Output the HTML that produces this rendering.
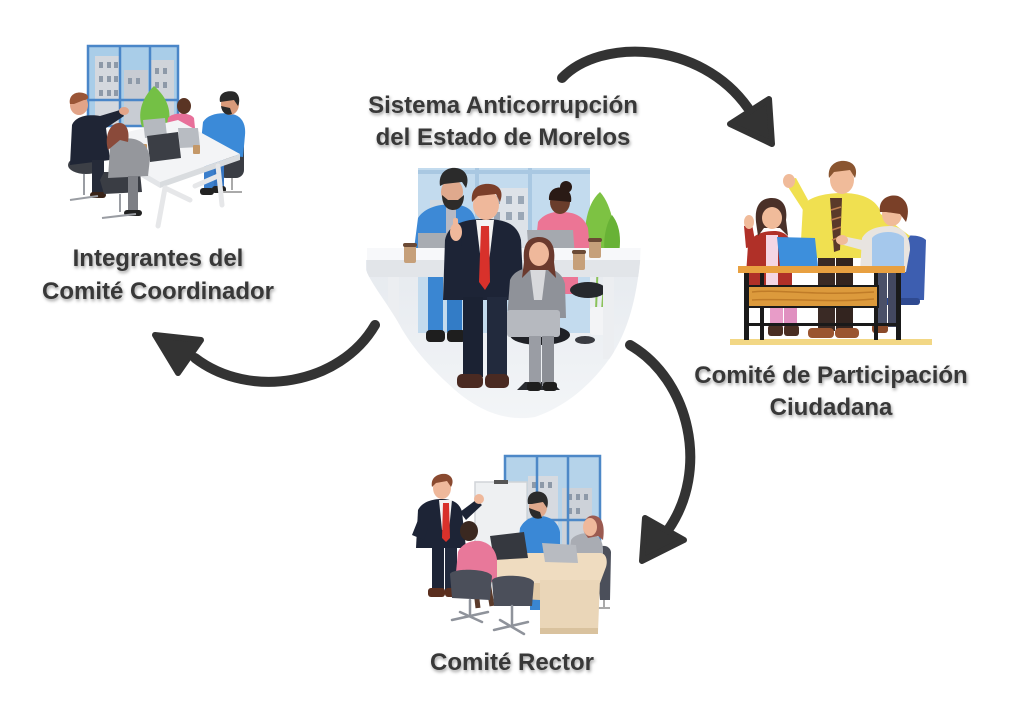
<!DOCTYPE html>
<html><head><meta charset="utf-8"><style>
html,body{margin:0;padding:0;background:#fff;width:1024px;height:706px;overflow:hidden}
svg{display:block}
text{font-family:"Liberation Sans",Arial,sans-serif;font-weight:bold;font-size:24px;fill:#383838;}
</style></head><body>
<svg width="1024" height="706" viewBox="0 0 1024 706" xmlns="http://www.w3.org/2000/svg">
<defs>
<filter id="ts" x="-10%" y="-40%" width="120%" height="190%"><feDropShadow dx="1" dy="2" stdDeviation="1.6" flood-color="#000" flood-opacity="0.38"/></filter>
<clipPath id="blob"><path d="M366,160 L645,160 L640,262 C636,300 628,330 612,355 C595,380 570,405 535,417 C505,422 478,410 455,390 C430,368 410,345 398,322 C385,300 372,285 366,270 Z"/></clipPath>
<linearGradient id="floor" x1="0" y1="0" x2="0" y2="1"><stop offset="0" stop-color="#e6eaef"/><stop offset="1" stop-color="#f4f6f8"/></linearGradient>
</defs>
<rect width="1024" height="706" fill="#fff"/>

<!-- ============ CENTER ILLUSTRATION ============ -->
<g clip-path="url(#blob)">
  <rect x="360" y="260" width="290" height="170" fill="url(#floor)"/>
  <rect x="418" y="168" width="172" height="165" fill="#c3dbee"/>
  <rect x="488" y="188" width="44" height="70" fill="#dde2e8"/>
  <g fill="#9aa7b6"><rect x="494" y="196" width="6" height="8"/><rect x="506" y="196" width="6" height="8"/><rect x="518" y="196" width="6" height="8"/><rect x="494" y="212" width="6" height="8"/><rect x="506" y="212" width="6" height="8"/><rect x="518" y="212" width="6" height="8"/></g>
  <rect x="430" y="200" width="30" height="60" fill="#d3d9e0"/>
  <g stroke="#a9c8e2" stroke-width="4"><line x1="477" y1="168" x2="477" y2="333"/><line x1="530" y1="168" x2="530" y2="333"/><line x1="418" y1="172" x2="590" y2="172"/></g>
  <!-- plant -->
  <path d="M600,192 C585,205 582,235 588,255 L612,255 C618,235 612,205 600,192 Z" fill="#7dc243"/>
  <path d="M612,215 C605,225 602,245 606,258 L618,258 C622,240 620,225 612,215 Z" fill="#68b236"/>
  <g stroke="#8bc25a" stroke-width="2"><line x1="598" y1="258" x2="596" y2="310"/><line x1="606" y1="258" x2="602" y2="310"/></g>
  <rect x="590" y="307" width="20" height="28" rx="3" fill="#f3f4f6"/>
  <!-- blue man back -->
  <path d="M413,257 L418,218 C424,208 440,203 452,205 C466,204 474,210 476,222 L476,257 Z" fill="#3d89d6"/>
  <rect x="446" y="206" width="10" height="40" fill="#b7b9c4"/>
  <ellipse cx="452" cy="192" rx="11" ry="13" fill="#dfa98d"/>
  <path d="M440,186 C438,172 448,167 456,168 C466,169 470,178 466,188 L462,182 L444,184 Z" fill="#2b2b2b"/>
  <path d="M442,195 C442,206 448,210 453,210 C460,210 464,204 464,195 L458,200 L448,200 Z" fill="#2e2b29"/>
  <rect x="428" y="274" width="15" height="58" fill="#3a86d2"/><rect x="447" y="274" width="15" height="58" fill="#337cc6"/>
  <rect x="426" y="330" width="19" height="12" rx="4" fill="#1e1e1e"/><rect x="447" y="330" width="19" height="12" rx="4" fill="#1e1e1e"/>
  <!-- pink woman back -->
  <path d="M535,250 L538,222 C544,213 556,211 562,212 C574,212 584,216 588,228 L590,250 Z" fill="#ec7595"/>
  <ellipse cx="560" cy="202" rx="10" ry="12" fill="#6a3d2b"/>
  <circle cx="566" cy="187" r="6" fill="#2a1a15"/>
  <path d="M549,200 C548,190 556,186 563,188 C570,190 572,196 571,202 Z" fill="#2a1a15"/>
  <rect x="560" y="276" width="18" height="18" fill="#ec7595"/>
  <ellipse cx="588" cy="290" rx="18" ry="8" fill="#26282d"/>
  <!-- laptops -->
  <path d="M418,233 L450,233 L452,258 L418,258 Z" fill="#a8acb2"/>
  <path d="M527,230 L573,230 L575,257 L529,257 Z" fill="#a5a9af"/>
  <!-- desk -->
  <rect x="367" y="248" width="274" height="13" fill="#f7f8fa"/>
  <rect x="367" y="260" width="274" height="17" fill="#e2e5e9"/>
  <rect x="388" y="277" width="11" height="58" fill="#eceef1"/>
  <rect x="603" y="277" width="11" height="82" fill="#eceef1"/>
  <ellipse cx="585" cy="340" rx="10" ry="4" fill="#3a3c42"/>
  <!-- cups -->
  <rect x="404" y="245" width="12" height="18" rx="2" fill="#c6a07a"/><rect x="403" y="243" width="14" height="4" rx="2" fill="#6b4a35"/>
  <rect x="573" y="252" width="12" height="18" rx="2" fill="#c6a07a"/><rect x="572" y="250" width="14" height="4" rx="2" fill="#6b4a35"/>
  <rect x="589" y="240" width="12" height="18" rx="2" fill="#c6a07a"/><rect x="588" y="238" width="14" height="4" rx="2" fill="#6b4a35"/>
  <!-- center man -->
  <path d="M443,300 L445,240 C448,225 462,219 485,219 C508,219 518,226 521,240 L524,300 Z" fill="#1d2436"/>
  <path d="M476,220 L494,220 L489,262 L481,262 Z" fill="#f3f3f3"/>
  <path d="M481,226 L489,226 L490,282 L485,290 L479,282 Z" fill="#d8312b"/>
  <path d="M445,245 C448,235 455,228 460,232 L462,246 Z" fill="#1d2436"/>
  <ellipse cx="456" cy="232" rx="6" ry="9" fill="#efb89b"/>
  <rect x="453" y="218" width="5" height="12" rx="2" fill="#efb89b"/>
  <ellipse cx="486" cy="205" rx="13" ry="15" fill="#efb89b"/>
  <path d="M472,202 C470,186 482,183 490,184 C500,185 504,192 500,202 L496,194 L478,196 Z" fill="#7b3f2a"/>
  <rect x="463" y="297" width="20" height="80" fill="#1b2233"/><rect x="487" y="297" width="20" height="80" fill="#222a3d"/>
  <rect x="457" y="374" width="26" height="14" rx="5" fill="#4a2a22"/><rect x="485" y="374" width="24" height="14" rx="5" fill="#4a2a22"/>
  <!-- gray woman -->
  <ellipse cx="540" cy="335" rx="30" ry="10" fill="#1f2126"/>
  <rect x="536" y="345" width="5" height="35" fill="#2a2c31"/>
  <path d="M517,390 L560,390 L552,382 L525,382 Z" fill="#2a2c31"/>
  <path d="M507,318 L510,280 C514,270 526,267 538,267 C552,267 562,272 565,284 L566,318 Z" fill="#8f9299"/>
  <path d="M530,268 L546,268 L542,300 L534,300 Z" fill="#d8d9dc"/>
  <path d="M524,262 C522,242 530,237 539,237 C550,237 556,245 554,262 L556,278 L548,270 L530,270 L522,278 Z" fill="#6b3a2e"/>
  <ellipse cx="539" cy="254" rx="10" ry="12" fill="#efb89b"/>
  <rect x="507" y="310" width="53" height="27" rx="3" fill="#b6b9bf"/>
  <rect x="529" y="336" width="12" height="50" fill="#9a9da4"/><rect x="542" y="336" width="12" height="50" fill="#8c8f96"/>
  <rect x="527" y="382" width="14" height="9" rx="3" fill="#1e1e1e"/><rect x="543" y="382" width="14" height="9" rx="3" fill="#1e1e1e"/>
</g>

<!-- ============ TOP-LEFT ILLUSTRATION ============ -->
<g>
  <rect x="88" y="46" width="90" height="80" fill="#a9cde8"/>
  <rect x="95" y="56" width="26" height="70" fill="#d4d8de"/>
  <rect x="124" y="70" width="24" height="56" fill="#c8ccd3"/>
  <rect x="151" y="60" width="23" height="66" fill="#d0d4da"/>
  <g fill="#8d99a8">
    <rect x="99" y="62" width="4" height="6"/><rect x="107" y="62" width="4" height="6"/><rect x="114" y="62" width="4" height="6"/>
    <rect x="99" y="76" width="4" height="6"/><rect x="107" y="76" width="4" height="6"/><rect x="114" y="76" width="4" height="6"/>
    <rect x="99" y="90" width="4" height="6"/><rect x="107" y="90" width="4" height="6"/><rect x="114" y="90" width="4" height="6"/>
    <rect x="128" y="78" width="4" height="6"/><rect x="136" y="78" width="4" height="6"/><rect x="155" y="68" width="4" height="6"/><rect x="163" y="68" width="4" height="6"/>
    <rect x="155" y="82" width="4" height="6"/><rect x="163" y="82" width="4" height="6"/>
  </g>
  <g stroke="#4a86c8" stroke-width="2.5" fill="none"><rect x="88" y="46" width="90" height="80"/><line x1="120" y1="46" x2="120" y2="126"/><line x1="150" y1="46" x2="150" y2="126"/><line x1="88" y1="100" x2="178" y2="100"/></g>
  <path d="M154,86 C140,100 138,115 142,127 L168,127 C172,112 168,98 154,86 Z" fill="#74c045"/>
  <!-- pink woman -->
  <path d="M165,138 L168,118 C172,112 190,112 194,118 L196,138 Z" fill="#e8709a"/>
  <ellipse cx="184" cy="106" rx="7" ry="8" fill="#5a3424"/>
  <!-- blue man -->
  <rect x="218" y="140" width="26" height="38" rx="8" fill="#3a3d44"/>
  <path d="M200,152 L203,122 C208,114 220,112 232,114 C242,116 246,124 245,135 L243,157 Z" fill="#3b8ad8"/>
  <ellipse cx="230" cy="104" rx="9" ry="11" fill="#d99a7a"/>
  <path d="M220,102 C218,92 228,90 235,92 C240,95 240,102 238,106 L234,100 Z" fill="#2a2a2a"/>
  <path d="M221,106 C222,114 228,116 232,114 L230,108 Z" fill="#2a2a2a"/>
  <rect x="204" y="150" width="10" height="42" fill="#3b7fcc"/><rect x="214" y="150" width="10" height="40" fill="#3574c0"/>
  <rect x="200" y="188" width="14" height="7" rx="3" fill="#222"/><rect x="212" y="186" width="14" height="7" rx="3" fill="#222"/>
  <g stroke="#aaa" stroke-width="2"><line x1="232" y1="178" x2="232" y2="190"/><line x1="222" y1="192" x2="242" y2="192"/></g>
  <!-- table -->
  <path d="M90,141 L178,120 L240,154 L160,182 Z" fill="#f3f4f6"/>
  <path d="M160,182 L240,154 L240,160 L160,188 Z" fill="#d9dcdf"/>
  <path d="M90,141 L160,182 L160,188 L90,147 Z" fill="#e3e5e8"/>
  <g stroke="#e6e7e9" stroke-width="5" stroke-linecap="round"><line x1="165" y1="188" x2="158" y2="226"/><line x1="165" y1="188" x2="190" y2="200"/><line x1="218" y1="166" x2="222" y2="205"/><line x1="195" y1="186" x2="218" y2="176"/></g>
  <!-- laptops -->
  <path d="M143,120 L165,118 L167,136 L145,138 Z" fill="#b5b9bf"/>
  <path d="M178,128 L198,128 L200,147 L180,148 Z" fill="#b8bcc2"/>
  <path d="M147,136 L178,132 L181,158 L150,162 Z" fill="#3b3e45"/>
  <rect x="140" y="144" width="7" height="9" rx="1" fill="#c49868"/>
  <rect x="193" y="145" width="7" height="9" rx="1" fill="#c49868"/>
  <!-- dark man left -->
  <ellipse cx="86" cy="165" rx="18" ry="9" fill="#3c3f46"/>
  <path d="M70,165 L72,125 C76,116 88,114 100,116 L120,110 L124,116 L106,128 L110,160 Z" fill="#1f2535"/>
  <ellipse cx="79" cy="105" rx="9" ry="10" fill="#e2a488"/>
  <path d="M70,104 C68,94 78,90 86,94 C90,97 88,100 84,100 L74,104 Z" fill="#9a5536"/>
  <ellipse cx="124" cy="111" rx="5" ry="4" fill="#e2a488"/>
  <rect x="92" y="160" width="12" height="34" fill="#252a38"/>
  <rect x="90" y="192" width="16" height="6" rx="3" fill="#3a2418"/>
  <g stroke="#9a9da3" stroke-width="2"><line x1="84" y1="174" x2="84" y2="195"/><line x1="70" y1="200" x2="98" y2="196"/></g>
  <!-- gray woman -->
  <path d="M100,180 L104,172 L140,172 L142,192 L104,194 Z" fill="#3a3d44"/>
  <path d="M108,178 L110,148 C113,140 124,137 134,139 C142,141 148,146 150,158 L148,176 Z" fill="#95979c"/>
  <path d="M108,150 C104,136 110,124 118,123 C126,122 130,130 128,142 L120,140 Z" fill="#8a4a3a"/>
  <rect x="128" y="176" width="10" height="36" fill="#7d7f85"/>
  <rect x="124" y="210" width="18" height="6" rx="3" fill="#222"/>
  <g stroke="#9a9da3" stroke-width="2"><line x1="120" y1="194" x2="120" y2="212"/><line x1="102" y1="218" x2="136" y2="214"/></g>
</g>

<!-- ============ RIGHT ILLUSTRATION ============ -->
<g>
  <rect x="730" y="339" width="202" height="6" fill="#f2d785"/>
  <!-- chair -->
  <path d="M897,240 C903,234 920,234 926,240 L924,300 L897,300 Z" fill="#3d5eb0"/>
  <rect x="880" y="298" width="40" height="7" rx="3" fill="#2f4a90"/>
  <!-- yellow man -->
  <rect x="818" y="255" width="17" height="76" fill="#3a2a25"/><rect x="836" y="255" width="17" height="76" fill="#33241f"/>
  <rect x="808" y="328" width="26" height="10" rx="4" fill="#9a5530"/><rect x="835" y="328" width="24" height="10" rx="4" fill="#9a5530"/>
  <path d="M800,258 L803,205 C810,196 828,193 842,193 C860,193 874,198 880,210 L884,258 Z" fill="#f0e050"/>
  <path d="M803,210 L790,190 L784,180 L796,178 L808,200 Z" fill="#f0e050"/>
  <ellipse cx="789" cy="181" rx="6" ry="7" fill="#f0bb9a"/>
  <path d="M878,212 L910,236 L904,244 L872,222 Z" fill="#f0e050"/>
  <path d="M830,198 L842,198 L840,250 L834,252 Z" fill="#5a3a2a"/>
  <g stroke="#c08050" stroke-width="1.5"><line x1="831" y1="210" x2="841" y2="207"/><line x1="831" y1="220" x2="841" y2="217"/><line x1="832" y1="230" x2="841" y2="227"/><line x1="832" y1="240" x2="840" y2="237"/></g>
  <ellipse cx="842" cy="180" rx="12" ry="14" fill="#f0bb9a"/>
  <path d="M829,178 C827,164 838,160 845,161 C855,162 858,170 855,178 L850,170 L834,172 Z" fill="#8a5530"/>
  <!-- woman red -->
  <rect x="770" y="285" width="13" height="42" fill="#e89cc8"/><rect x="784" y="285" width="13" height="42" fill="#e090c0"/>
  <rect x="768" y="325" width="15" height="11" rx="3" fill="#4a2e22"/><rect x="784" y="325" width="15" height="11" rx="3" fill="#4a2e22"/>
  <path d="M745,290 L748,245 C752,234 764,231 774,231 C784,231 790,236 792,246 L792,290 Z" fill="#b03028"/>
  <rect x="766" y="235" width="12" height="50" fill="#f4d6e4"/>
  <path d="M746,248 L744,226 L752,224 L756,246 Z" fill="#b03028"/>
  <ellipse cx="749" cy="222" rx="5" ry="7" fill="#f0bb9a"/>
  <path d="M756,222 C754,202 764,198 772,198 C782,198 788,206 786,220 L788,236 L780,228 L764,228 L758,236 Z" fill="#4a3028"/>
  <ellipse cx="772" cy="218" rx="10" ry="11" fill="#f0bb9a"/>
  <!-- laptop -->
  <path d="M777,237 L815,238 L818,267 L780,267 Z" fill="#3d8fdc"/>
  <!-- man right -->
  <rect x="876" y="272" width="11" height="55" fill="#4a5068"/><rect x="888" y="272" width="11" height="55" fill="#434860"/>
  <rect x="872" y="324" width="16" height="9" rx="3" fill="#8a4a2a"/>
  <path d="M860,272 L862,238 C868,228 880,226 892,226 C904,228 910,236 910,250 L906,272 Z" fill="#e8e4e0"/>
  <path d="M872,238 C878,230 898,230 904,238 L904,270 L872,270 Z" fill="#a5c8ec"/>
  <path d="M862,240 L842,236 L840,244 L862,250 Z" fill="#e8e4e0"/>
  <ellipse cx="842" cy="240" rx="6" ry="5" fill="#f0bb9a"/>
  <ellipse cx="892" cy="214" rx="10" ry="12" fill="#f0bb9a"/>
  <path d="M880,212 C878,198 890,194 898,196 C908,200 910,210 906,222 L900,214 L886,212 Z" fill="#7a4028"/>
  <!-- table -->
  <rect x="738" y="266" width="167" height="7" fill="#e8a040"/>
  <g fill="#1a1a1a"><rect x="744" y="273" width="5" height="67"/><rect x="760" y="273" width="4" height="67"/><rect x="874" y="273" width="4" height="67"/><rect x="896" y="273" width="5" height="67"/><rect x="744" y="323" width="157" height="3"/></g>
  <rect x="748" y="286" width="130" height="21" fill="#dc9a3c" stroke="#1a1a1a" stroke-width="2"/>
  <g stroke="#c07c28" stroke-width="1.5" fill="none"><path d="M752,292 C780,289 810,296 874,292"/><path d="M752,300 C790,298 830,303 874,299"/></g>
</g>

<!-- ============ BOTTOM ILLUSTRATION ============ -->
<g>
  <rect x="505" y="456" width="95" height="98" fill="#b5d3ea"/>
  <rect x="528" y="476" width="30" height="78" fill="#d6dae0"/>
  <rect x="562" y="488" width="30" height="66" fill="#cdd2d9"/>
  <g fill="#8d99a8"><rect x="532" y="482" width="4" height="6"/><rect x="540" y="482" width="4" height="6"/><rect x="548" y="482" width="4" height="6"/><rect x="568" y="494" width="4" height="6"/><rect x="576" y="494" width="4" height="6"/><rect x="584" y="494" width="4" height="6"/><rect x="568" y="508" width="4" height="6"/><rect x="576" y="508" width="4" height="6"/></g>
  <g stroke="#4d88c7" stroke-width="2.5" fill="none"><rect x="505" y="456" width="95" height="98"/><line x1="537" y1="456" x2="537" y2="554"/><line x1="568" y1="456" x2="568" y2="554"/><line x1="505" y1="520" x2="600" y2="520"/></g>
  <rect x="475" y="482" width="52" height="89" fill="#eef0f2" stroke="#d0d4d8" stroke-width="1.5"/>
  <rect x="494" y="480" width="14" height="4" fill="#555"/>
  <!-- blue man -->
  <path d="M517,556 L520,528 C525,518 535,516 540,516 C550,516 558,522 560,532 L560,556 Z" fill="#3a88d6"/>
  <ellipse cx="538" cy="507" rx="9" ry="11" fill="#dfa98d"/>
  <path d="M528,504 C526,494 534,490 541,492 C548,494 549,502 547,508 L543,502 L532,504 Z" fill="#2b2b2b"/>
  <path d="M529,508 C530,518 536,520 542,518 L540,512 Z" fill="#2b2b2b"/>
  <rect x="530" y="582" width="10" height="28" fill="#3a86d2"/>
  <!-- gray woman -->
  <path d="M597,560 L598,548 C603,544 610,546 611,552 L610,600 L600,600 Z" fill="#4b4f5a"/>
  <path d="M568,562 L571,540 C575,534 585,532 592,534 C600,536 603,542 603,550 L603,562 Z" fill="#a9acb3"/>
  <path d="M584,532 C582,518 590,514 596,516 C603,518 605,528 603,540 L598,536 L588,538 Z" fill="#9b5a50"/>
  <ellipse cx="590" cy="527" rx="7" ry="9" fill="#efb89b"/>
  <g stroke="#aaa" stroke-width="2"><line x1="604" y1="600" x2="604" y2="608"/><line x1="596" y1="608" x2="610" y2="608"/></g>
  <!-- table -->
  <path d="M496,553 L600,553 C606,553 608,560 606,567 L600,583 L496,583 C482,583 478,568 484,560 C487,555 490,553 496,553 Z" fill="#efdcc0"/>
  <path d="M540,580 L600,580 L598,632 L540,632 Z" fill="#ead6b8"/>
  <path d="M540,628 L598,628 L598,634 L540,634 Z" fill="#d9c29e"/>
  <path d="M496,583 L540,583 L540,600 L500,598 Z" fill="#e3cba7"/>
  <!-- laptops -->
  <path d="M490,536 L524,532 L528,558 L494,560 Z" fill="#35383f"/>
  <path d="M542,543 L576,545 L578,563 L545,562 Z" fill="#b8bbc1"/>
  <!-- man left -->
  <rect x="432" y="543" width="12" height="48" fill="#1d2436"/><rect x="445" y="543" width="12" height="48" fill="#222a3d"/>
  <rect x="428" y="588" width="17" height="9" rx="3" fill="#5a2e1e"/><rect x="445" y="588" width="17" height="9" rx="3" fill="#5a2e1e"/>
  <path d="M416,548 L418,510 C422,502 432,499 442,499 C452,499 460,503 462,512 L466,548 Z" fill="#1d2436"/>
  <path d="M460,512 L476,500 L482,505 L466,520 Z" fill="#1d2436"/>
  <ellipse cx="479" cy="499" rx="5" ry="5" fill="#efb89b"/>
  <path d="M418,520 L412,535 L424,540 L428,528 Z" fill="#1d2436"/>
  <path d="M439,500 L452,500 L449,530 L442,530 Z" fill="#f3f3f3"/>
  <path d="M443,503 L449,503 L450,538 L446,542 L442,538 Z" fill="#d8312b"/>
  <ellipse cx="442" cy="488" rx="9" ry="11" fill="#efb89b"/>
  <path d="M432,487 C430,476 440,473 446,474 C453,476 454,482 451,487 L447,481 L436,483 Z" fill="#8a4a30"/>
  <!-- pink woman -->
  <path d="M455,582 L458,552 C462,543 472,540 480,541 C490,543 496,550 497,560 L497,582 Z" fill="#e8789a"/>
  <ellipse cx="469" cy="531" rx="9" ry="10" fill="#3a2820"/>
  <g stroke="#5a3a2a" stroke-width="5"><line x1="475" y1="582" x2="478" y2="608"/><line x1="488" y1="582" x2="492" y2="606"/></g>
  <!-- chairs -->
  <path d="M450,574 C452,568 488,568 492,576 L490,600 L452,598 Z" fill="#4b4f5a"/>
  <path d="M492,580 C496,574 530,574 534,582 L532,606 L494,606 Z" fill="#4b4f5a"/>
  <g stroke="#8f939b" stroke-width="2.5" stroke-linecap="round">
    <line x1="470" y1="600" x2="470" y2="614"/><line x1="452" y1="620" x2="488" y2="612"/><line x1="460" y1="612" x2="482" y2="622"/>
    <line x1="512" y1="606" x2="512" y2="624"/><line x1="494" y1="630" x2="528" y2="622"/><line x1="500" y1="620" x2="524" y2="634"/>
  </g>
</g>

<!-- ============ ARROWS ============ -->
<g fill="none" stroke="#333" stroke-width="10" stroke-linecap="round">
  <path d="M562,78 C600,38 700,40 748,108"/>
  <path d="M375,325 C340,385 250,400 195,358"/>
  <path d="M630,345 C690,380 710,470 668,530"/>
</g>
<g fill="#333" stroke="#333" stroke-width="6" stroke-linejoin="round">
  <polygon points="730,124 769,99 772,144"/>
  <polygon points="155,335 201,340 178,373"/>
  <polygon points="645,518 684,540 642,561"/>
</g>

<!-- ============ LABELS ============ -->
<g filter="url(#ts)" text-anchor="middle">
  <text x="503" y="113">Sistema Anticorrupción</text>
  <text x="503" y="145">del Estado de Morelos</text>
  <text x="158" y="266">Integrantes del</text>
  <text x="158" y="299">Comité Coordinador</text>
  <text x="831" y="383">Comité de Participación</text>
  <text x="831" y="415">Ciudadana</text>
  <text x="512" y="670">Comité Rector</text>
</g>
</svg>
</body></html>
